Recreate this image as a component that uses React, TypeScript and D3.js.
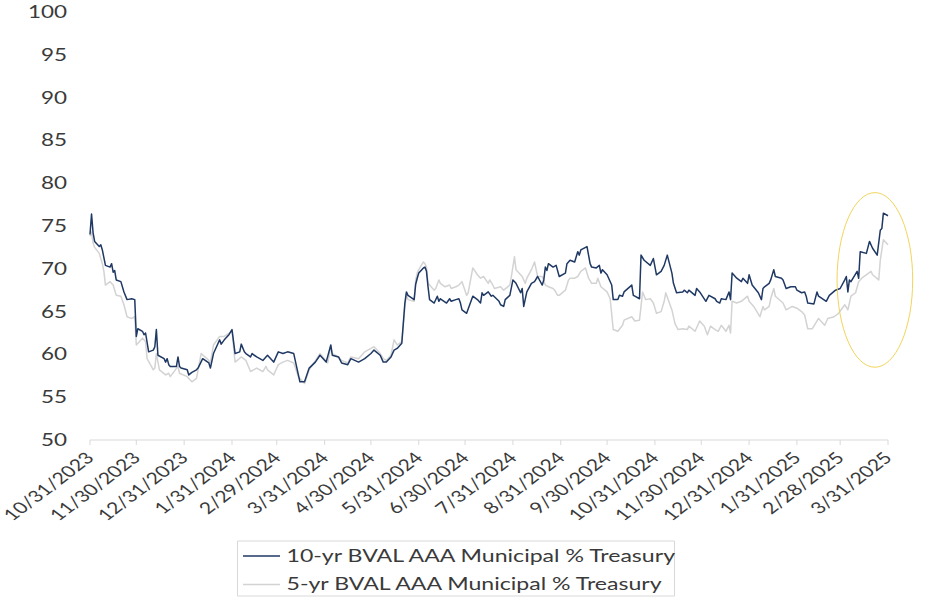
import React from 'react';
import * as d3 from "d3";

// the reference is stretched sideways, so draw in a narrower box and let the viewBox widen it
const SX = 1.32;
const width = 926;
const height = 600;
const innerWidth = width / SX;

const yTicks = [50, 55, 60, 65, 70, 75, 80, 85, 90, 95, 100];

const monthEnds = [
    "2023-10-31", "2023-11-30", "2023-12-31", "2024-01-31", "2024-02-29", "2024-03-31",
    "2024-04-30", "2024-05-31", "2024-06-30", "2024-07-31", "2024-08-31", "2024-09-30",
    "2024-10-31", "2024-11-30", "2024-12-31", "2025-01-31", "2025-02-28", "2025-03-31",
];

const seriesNames = ["10-yr BVAL AAA Municipal % Treasury", "5-yr BVAL AAA Municipal % Treasury"];

const tenYr: [string, number][] = [
    ["2023-10-31", 74.0], ["2023-11-01", 76.4], ["2023-11-02", 74.2], ["2023-11-03", 73.2],
    ["2023-11-06", 72.6], ["2023-11-07", 72.8], ["2023-11-08", 72.2], ["2023-11-10", 70.4],
    ["2023-11-13", 70.2], ["2023-11-14", 70.6], ["2023-11-15", 69.6], ["2023-11-16", 69.8],
    ["2023-11-17", 68.7], ["2023-11-20", 68.5], ["2023-11-22", 67.3], ["2023-11-24", 66.4],
    ["2023-11-27", 66.5], ["2023-11-29", 66.4], ["2023-11-30", 62.1], ["2023-12-01", 63.0],
    ["2023-12-04", 62.7], ["2023-12-05", 62.3], ["2023-12-06", 62.5], ["2023-12-08", 60.3],
    ["2023-12-11", 60.5], ["2023-12-12", 60.9], ["2023-12-13", 62.9], ["2023-12-14", 59.9],
    ["2023-12-18", 59.5], ["2023-12-19", 59.1], ["2023-12-20", 59.5], ["2023-12-21", 58.8],
    ["2023-12-22", 58.6], ["2023-12-26", 58.6], ["2023-12-27", 59.7], ["2023-12-28", 58.6],
    ["2023-12-29", 58.4], ["2024-01-02", 58.2], ["2024-01-03", 57.6], ["2024-01-05", 57.9],
    ["2024-01-08", 58.2], ["2024-01-09", 58.4], ["2024-01-12", 59.5], ["2024-01-16", 59.0],
    ["2024-01-17", 58.4], ["2024-01-19", 60.1], ["2024-01-22", 61.3], ["2024-01-23", 61.7],
    ["2024-01-24", 61.2], ["2024-01-26", 61.7], ["2024-01-29", 62.3], ["2024-01-31", 62.9],
    ["2024-02-02", 60.1], ["2024-02-05", 60.3], ["2024-02-06", 61.2], ["2024-02-08", 60.3],
    ["2024-02-09", 60.1], ["2024-02-12", 59.7], ["2024-02-13", 60.1], ["2024-02-16", 59.7],
    ["2024-02-20", 59.3], ["2024-02-23", 59.9], ["2024-02-27", 59.1], ["2024-03-01", 60.3],
    ["2024-03-04", 60.1], ["2024-03-07", 60.3], ["2024-03-11", 60.1], ["2024-03-14", 57.6],
    ["2024-03-15", 56.8], ["2024-03-18", 56.8], ["2024-03-21", 58.4], ["2024-03-25", 59.1],
    ["2024-03-28", 59.9], ["2024-04-01", 59.1], ["2024-04-04", 61.1], ["2024-04-05", 59.9],
    ["2024-04-09", 59.7], ["2024-04-11", 59.0], ["2024-04-15", 58.8], ["2024-04-17", 59.5],
    ["2024-04-22", 59.1], ["2024-04-26", 59.5], ["2024-04-30", 60.1], ["2024-05-02", 60.5],
    ["2024-05-06", 59.9], ["2024-05-08", 59.1], ["2024-05-10", 59.1], ["2024-05-13", 59.7],
    ["2024-05-15", 60.5], ["2024-05-17", 60.7], ["2024-05-20", 61.3], ["2024-05-22", 66.0],
    ["2024-05-23", 67.3], ["2024-05-24", 66.9], ["2024-05-28", 66.4], ["2024-05-29", 68.2],
    ["2024-05-30", 68.9], ["2024-05-31", 69.5], ["2024-06-03", 70.1], ["2024-06-04", 70.2],
    ["2024-06-05", 69.7], ["2024-06-06", 67.9], ["2024-06-07", 66.4], ["2024-06-10", 66.0],
    ["2024-06-12", 66.8], ["2024-06-13", 66.2], ["2024-06-14", 66.5], ["2024-06-18", 66.0],
    ["2024-06-20", 66.5], ["2024-06-21", 66.2], ["2024-06-24", 66.4], ["2024-06-26", 66.5],
    ["2024-06-27", 66.0], ["2024-06-28", 65.2], ["2024-07-01", 64.8], ["2024-07-03", 65.8],
    ["2024-07-05", 66.8], ["2024-07-08", 66.4], ["2024-07-10", 66.0], ["2024-07-11", 67.2],
    ["2024-07-12", 66.9], ["2024-07-15", 67.3], ["2024-07-17", 66.8], ["2024-07-18", 66.9],
    ["2024-07-22", 66.2], ["2024-07-23", 65.8], ["2024-07-25", 65.6], ["2024-07-26", 66.4],
    ["2024-07-29", 66.9], ["2024-07-31", 68.7], ["2024-08-02", 68.3], ["2024-08-05", 67.2],
    ["2024-08-06", 67.7], ["2024-08-07", 65.6], ["2024-08-09", 67.3], ["2024-08-12", 68.3],
    ["2024-08-14", 68.5], ["2024-08-16", 69.1], ["2024-08-19", 68.1], ["2024-08-20", 68.7],
    ["2024-08-21", 70.2], ["2024-08-22", 69.8], ["2024-08-23", 70.6], ["2024-08-26", 70.2],
    ["2024-08-28", 70.4], ["2024-08-30", 69.1], ["2024-09-03", 69.5], ["2024-09-04", 70.6],
    ["2024-09-06", 71.0], ["2024-09-09", 70.8], ["2024-09-11", 72.0], ["2024-09-12", 71.6],
    ["2024-09-13", 72.2], ["2024-09-17", 72.6], ["2024-09-19", 70.6], ["2024-09-20", 70.2],
    ["2024-09-23", 70.1], ["2024-09-25", 70.4], ["2024-09-26", 69.5], ["2024-09-27", 69.9],
    ["2024-09-30", 69.3], ["2024-10-03", 68.1], ["2024-10-04", 66.4], ["2024-10-07", 66.4],
    ["2024-10-08", 66.9], ["2024-10-10", 66.8], ["2024-10-11", 67.3], ["2024-10-16", 68.1],
    ["2024-10-17", 66.9], ["2024-10-18", 66.8], ["2024-10-21", 66.5], ["2024-10-22", 71.6],
    ["2024-10-24", 71.0], ["2024-10-28", 70.4], ["2024-10-30", 71.2], ["2024-11-01", 69.3],
    ["2024-11-04", 69.7], ["2024-11-06", 70.4], ["2024-11-08", 71.6], ["2024-11-11", 69.5],
    ["2024-11-12", 68.3], ["2024-11-14", 67.2], ["2024-11-18", 67.3], ["2024-11-19", 67.5],
    ["2024-11-21", 67.2], ["2024-11-22", 67.5], ["2024-11-26", 66.9], ["2024-11-27", 67.7],
    ["2024-11-29", 67.3], ["2024-12-03", 66.2], ["2024-12-05", 66.9], ["2024-12-09", 66.5],
    ["2024-12-10", 66.2], ["2024-12-12", 66.0], ["2024-12-13", 66.5], ["2024-12-16", 66.4],
    ["2024-12-18", 67.3], ["2024-12-19", 66.4], ["2024-12-20", 69.5], ["2024-12-23", 68.9],
    ["2024-12-26", 68.5], ["2024-12-27", 68.9], ["2024-12-30", 68.3], ["2024-12-31", 69.3],
    ["2025-01-02", 68.1], ["2025-01-06", 67.2], ["2025-01-08", 66.4], ["2025-01-09", 67.7],
    ["2025-01-10", 67.9], ["2025-01-13", 68.3], ["2025-01-14", 68.7], ["2025-01-16", 69.9],
    ["2025-01-17", 69.1], ["2025-01-21", 68.9], ["2025-01-22", 68.7], ["2025-01-24", 67.7],
    ["2025-01-27", 67.9], ["2025-01-30", 67.9], ["2025-01-31", 67.5], ["2025-02-03", 67.2],
    ["2025-02-05", 67.3], ["2025-02-06", 66.8], ["2025-02-07", 66.0], ["2025-02-11", 65.9],
    ["2025-02-13", 67.3], ["2025-02-14", 66.8], ["2025-02-19", 66.2], ["2025-02-21", 66.9],
    ["2025-02-25", 67.5], ["2025-02-28", 67.7], ["2025-03-03", 68.7], ["2025-03-04", 69.1],
    ["2025-03-05", 67.3], ["2025-03-06", 68.7], ["2025-03-07", 68.5], ["2025-03-11", 69.7],
    ["2025-03-12", 68.9], ["2025-03-13", 72.0], ["2025-03-17", 71.8], ["2025-03-19", 73.2],
    ["2025-03-21", 72.4], ["2025-03-24", 71.6], ["2025-03-26", 74.5], ["2025-03-27", 74.7],
    ["2025-03-28", 76.5], ["2025-03-31", 76.2],
];

const fiveYr: [string, number][] = [
    ["2023-10-31", 73.8], ["2023-11-01", 74.3], ["2023-11-02", 73.0], ["2023-11-03", 72.5],
    ["2023-11-06", 71.8], ["2023-11-08", 70.6], ["2023-11-09", 69.7], ["2023-11-10", 68.1],
    ["2023-11-13", 68.5], ["2023-11-15", 68.1], ["2023-11-17", 66.9], ["2023-11-20", 66.8],
    ["2023-11-22", 65.8], ["2023-11-24", 64.4], ["2023-11-27", 64.2], ["2023-11-29", 64.4],
    ["2023-11-30", 61.1], ["2023-12-04", 61.9], ["2023-12-06", 61.5], ["2023-12-07", 59.5],
    ["2023-12-11", 58.2], ["2023-12-12", 58.4], ["2023-12-13", 60.1], ["2023-12-15", 58.2],
    ["2023-12-19", 57.6], ["2023-12-21", 57.8], ["2023-12-22", 57.4], ["2023-12-27", 58.6],
    ["2023-12-28", 57.8], ["2024-01-02", 57.4], ["2024-01-05", 56.8], ["2024-01-08", 57.2],
    ["2024-01-11", 60.1], ["2024-01-16", 59.3], ["2024-01-17", 59.0], ["2024-01-19", 61.1],
    ["2024-01-23", 62.1], ["2024-01-26", 62.1], ["2024-01-31", 62.7], ["2024-02-02", 59.1],
    ["2024-02-06", 59.7], ["2024-02-09", 59.3], ["2024-02-12", 58.0], ["2024-02-16", 58.4],
    ["2024-02-20", 58.0], ["2024-02-22", 58.6], ["2024-02-23", 58.2], ["2024-02-27", 57.6],
    ["2024-03-01", 58.8], ["2024-03-04", 59.1], ["2024-03-07", 59.3], ["2024-03-11", 59.0],
    ["2024-03-14", 57.4], ["2024-03-18", 56.6], ["2024-03-21", 58.2], ["2024-03-28", 60.1],
    ["2024-04-02", 59.0], ["2024-04-04", 60.9], ["2024-04-05", 60.1], ["2024-04-09", 59.7],
    ["2024-04-11", 59.3], ["2024-04-15", 59.0], ["2024-04-17", 59.7], ["2024-04-22", 59.5],
    ["2024-04-26", 60.3], ["2024-04-30", 60.7], ["2024-05-02", 60.9], ["2024-05-06", 60.1],
    ["2024-05-08", 59.5], ["2024-05-10", 59.3], ["2024-05-13", 59.9], ["2024-05-15", 61.7],
    ["2024-05-17", 61.1], ["2024-05-20", 61.5], ["2024-05-22", 65.6], ["2024-05-23", 67.0],
    ["2024-05-24", 66.4], ["2024-05-28", 66.2], ["2024-05-29", 68.7], ["2024-05-30", 69.5],
    ["2024-05-31", 69.9], ["2024-06-03", 70.8], ["2024-06-04", 70.6], ["2024-06-05", 70.2],
    ["2024-06-06", 68.3], ["2024-06-10", 67.5], ["2024-06-11", 67.7], ["2024-06-13", 68.7],
    ["2024-06-14", 68.3], ["2024-06-17", 67.9], ["2024-06-20", 68.1], ["2024-06-21", 67.7],
    ["2024-06-24", 67.9], ["2024-06-26", 68.1], ["2024-06-28", 68.5], ["2024-07-01", 66.9],
    ["2024-07-02", 67.2], ["2024-07-05", 70.1], ["2024-07-08", 69.3], ["2024-07-10", 68.9],
    ["2024-07-12", 69.1], ["2024-07-15", 68.3], ["2024-07-16", 68.7], ["2024-07-18", 68.1],
    ["2024-07-19", 67.7], ["2024-07-23", 67.9], ["2024-07-25", 67.5], ["2024-07-29", 68.1],
    ["2024-07-30", 69.1], ["2024-08-01", 71.4], ["2024-08-02", 69.9], ["2024-08-06", 69.1],
    ["2024-08-08", 68.3], ["2024-08-09", 68.9], ["2024-08-12", 69.9], ["2024-08-14", 70.8],
    ["2024-08-16", 69.1], ["2024-08-19", 69.1], ["2024-08-21", 68.1], ["2024-08-23", 67.9],
    ["2024-08-26", 67.7], ["2024-08-27", 67.5], ["2024-08-29", 66.9], ["2024-08-30", 66.9],
    ["2024-09-03", 67.5], ["2024-09-05", 68.7], ["2024-09-06", 68.9], ["2024-09-09", 68.9],
    ["2024-09-11", 69.1], ["2024-09-13", 69.7], ["2024-09-16", 70.1], ["2024-09-18", 68.9],
    ["2024-09-20", 68.3], ["2024-09-23", 68.3], ["2024-09-24", 68.9], ["2024-09-26", 67.9],
    ["2024-09-30", 67.3], ["2024-10-02", 66.5], ["2024-10-04", 62.9], ["2024-10-07", 62.7],
    ["2024-10-10", 63.4], ["2024-10-11", 64.0], ["2024-10-16", 64.4], ["2024-10-18", 63.9],
    ["2024-10-21", 64.0], ["2024-10-23", 67.3], ["2024-10-25", 66.4], ["2024-10-28", 66.5],
    ["2024-10-30", 66.0], ["2024-11-01", 64.8], ["2024-11-04", 65.0], ["2024-11-06", 66.2],
    ["2024-11-07", 67.2], ["2024-11-11", 65.2], ["2024-11-13", 63.6], ["2024-11-15", 62.9],
    ["2024-11-18", 63.0], ["2024-11-21", 62.9], ["2024-11-22", 63.3], ["2024-11-26", 62.7],
    ["2024-11-29", 63.9], ["2024-12-02", 63.3], ["2024-12-04", 62.3], ["2024-12-06", 63.3],
    ["2024-12-09", 62.9], ["2024-12-11", 62.7], ["2024-12-13", 63.4], ["2024-12-16", 62.7],
    ["2024-12-18", 63.4], ["2024-12-19", 62.5], ["2024-12-20", 66.2], ["2024-12-23", 66.0],
    ["2024-12-26", 66.2], ["2024-12-30", 66.8], ["2024-12-31", 66.2], ["2025-01-03", 65.6],
    ["2025-01-07", 64.4], ["2025-01-09", 65.6], ["2025-01-10", 65.2], ["2025-01-13", 65.6],
    ["2025-01-14", 66.5], ["2025-01-16", 67.7], ["2025-01-17", 66.8], ["2025-01-22", 66.0],
    ["2025-01-24", 65.2], ["2025-01-28", 65.6], ["2025-01-31", 65.4], ["2025-02-03", 65.0],
    ["2025-02-05", 64.6], ["2025-02-07", 63.0], ["2025-02-10", 63.0], ["2025-02-14", 64.2],
    ["2025-02-18", 63.4], ["2025-02-20", 64.2], ["2025-02-24", 64.4], ["2025-02-27", 64.8],
    ["2025-03-03", 65.8], ["2025-03-05", 65.2], ["2025-03-07", 66.8], ["2025-03-10", 67.2],
    ["2025-03-12", 68.5], ["2025-03-14", 68.9], ["2025-03-20", 69.7], ["2025-03-21", 69.3],
    ["2025-03-25", 68.7], ["2025-03-26", 71.0], ["2025-03-28", 73.4], ["2025-03-31", 72.8],
];

// the yellow ring drawn round the last weeks
const highlight = { from: "2025-02-26", to: "2025-04-16", low: 58.5, high: 78.9 };

const parse = d3.timeParse("%Y-%m-%d");
const fmt = d3.timeFormat("%-m/%-d/%Y");

const App = () => {
    const x = d3.scaleTime()
        .domain([parse(monthEnds[0])!, parse(monthEnds[monthEnds.length - 1])!])
        .range([90 / SX, 888 / SX]);
    const y = d3.scaleLinear().domain([50, 100]).range([440, 12]);

    const line = d3.line<[string, number]>()
        .x((d) => x(parse(d[0])!))
        .y((d) => y(d[1]));

    const hx0 = x(parse(highlight.from)!);
    const hx1 = x(parse(highlight.to)!);
    const hy0 = y(highlight.high);
    const hy1 = y(highlight.low);

    const colors = ["#1f3864", "#d3d3d3"];
    const textColor = "#3a3a3a";

    return (
        <svg
            width={width}
            height={height}
            viewBox={`0 0 ${innerWidth} ${height}`}
            preserveAspectRatio="none"
            style={{ position: "absolute", left: 0, top: 0, background: "white" }}
            fontFamily="Lato, 'Open Sans', sans-serif"
        >
            {yTicks.map((t) => (
                <text key={t} x={67 / SX} y={y(t)} dy="0.35em" textAnchor="end" fontSize={17} fill={textColor}>
                    {t}
                </text>
            ))}

            <line x1={x.range()[0]} x2={x.range()[1]} y1={y(50)} y2={y(50)}
                stroke="#d9d9d9" strokeWidth={1} vectorEffect="non-scaling-stroke" />
            {monthEnds.map((m) => {
                const tx = x(parse(m)!);
                return (
                    <g key={m}>
                        <line x1={tx} x2={tx} y1={y(50)} y2={y(50) + 5}
                            stroke="#d9d9d9" strokeWidth={1} vectorEffect="non-scaling-stroke" />
                        <text transform={`translate(${tx + 4},${y(50) + 19}) rotate(-45)`}
                            textAnchor="end" fontSize={16} fill={textColor}>
                            {fmt(parse(m)!)}
                        </text>
                    </g>
                );
            })}

            <path d={line(fiveYr) || ""} fill="none" stroke={colors[1]} strokeWidth={1.5}
                vectorEffect="non-scaling-stroke" strokeLinejoin="round" />
            <path d={line(tenYr) || ""} fill="none" stroke={colors[0]} strokeWidth={1.5}
                vectorEffect="non-scaling-stroke" strokeLinejoin="round" />

            <ellipse cx={(hx0 + hx1) / 2} cy={(hy0 + hy1) / 2} rx={(hx1 - hx0) / 2} ry={(hy1 - hy0) / 2}
                fill="none" stroke="#f2d45c" strokeWidth={1} vectorEffect="non-scaling-stroke" />

            <g>
                <rect x={237.5 / SX} y={541} width={(674.5 - 237.5) / SX} height={55}
                    fill="white" stroke="#d9d9d9" strokeWidth={1} vectorEffect="non-scaling-stroke" />
                {seriesNames.map((name, i) => (
                    <g key={name}>
                        <line x1={243 / SX} x2={280 / SX} y1={556 + i * 28.5} y2={556 + i * 28.5}
                            stroke={colors[i]} strokeWidth={1.5} vectorEffect="non-scaling-stroke" />
                        <text x={286.5 / SX} y={562 + i * 28.5} fontSize={17.5} fill={textColor}>
                            {name}
                        </text>
                    </g>
                ))}
            </g>
        </svg>
    );
};

export default App;
